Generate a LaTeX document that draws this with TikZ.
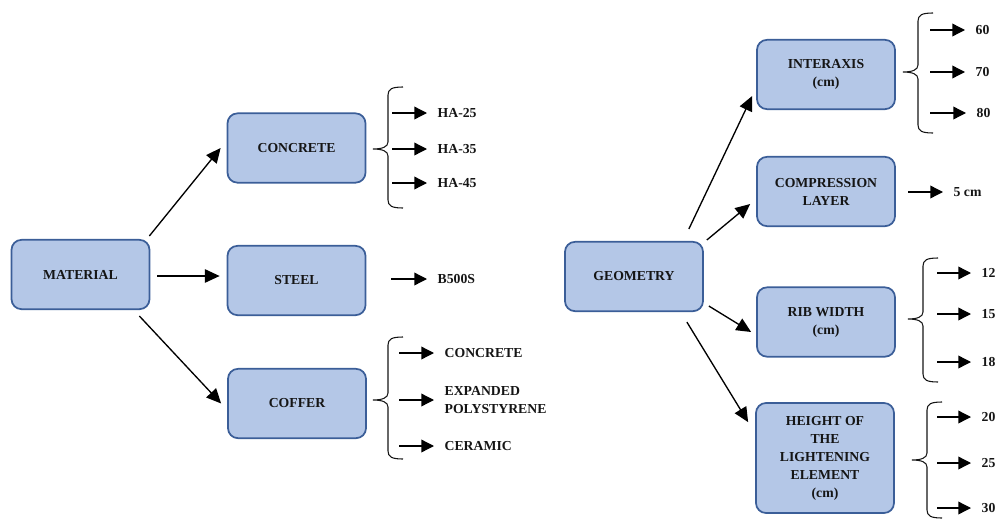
\documentclass[tikz,border=0pt]{standalone}
\usepackage{fontspec}
\setmainfont{Liberation Serif}
\usetikzlibrary{arrows.meta,calc}
\definecolor{boxfill}{HTML}{B4C7E7}
\definecolor{boxline}{HTML}{3B5E98}
\definecolor{inkc}{HTML}{151515}
\newcommand{\mybrace}[4]{%
  \draw[bracestyle] (#1+15,#2) .. controls (#1+4,#2) and (#1,#2+2) .. (#1,#2+8)
    -- (#1,#3-7) .. controls (#1,#3-2) and (#1-6,#3) .. (#1-15,#3)
    .. controls (#1-6,#3) and (#1,#3+2) .. (#1,#3+7)
    -- (#1,#4-8) .. controls (#1,#4-2) and (#1+4,#4) .. (#1+15,#4);}
\begin{document}
\begin{tikzpicture}[x=0.75pt,y=-0.75pt,
  mainbox/.style={draw=boxline,fill=boxfill,line width=1.3pt,rounded corners=7.5pt,
    minimum width=103.5pt,minimum height=52pt,align=center,inner sep=2pt,
    text=inkc,font=\fontsize{10.3}{13.5}\selectfont\bfseries},
  sub/.style={anchor=west,inner sep=0pt,outer xsep=8pt,align=left,
    text=inkc,font=\fontsize{10.3}{13}\selectfont\bfseries},
  sarrow/.style={line width=1pt,draw=black,-{Triangle[length=9.5pt,width=9.5pt]}},
  barrow/.style={line width=1pt,draw=black,-{Triangle[length=11pt,width=10pt]}},
  bracestyle/.style={line width=0.8pt,draw=inkc}]
\useasboundingbox (0,0) rectangle (1003,521);

% main boxes
\node[mainbox] (mat) at (80.5,274.5) {MATERIAL};
\node[mainbox] (conc) at (296.5,148) {CONCRETE};
\node[mainbox] (steel) at (296.5,280.5) {STEEL};
\node[mainbox] (coff) at (297,403.5) {COFFER};
\node[mainbox] (geo) at (634,276.5) {GEOMETRY};
\node[mainbox] (inter) at (826,74.5) {INTERAXIS\\(cm)};
\node[mainbox] (comp) at (826,191.5) {COMPRESSION\\LAYER};
\node[mainbox] (rib) at (826,322) {RIB WIDTH\\(cm)};
\node[mainbox,minimum height=82.5pt] (hgt) at (825,458) {HEIGHT OF\\THE\\LIGHTENING\\ELEMENT\\(cm)};

% main arrows
\draw[barrow] ($(mat.north east)+(-1,-3)$) -- ($(conc.west)+(-6,0)$);
\draw[barrow] ($(mat.east)+(7,1.5)$) -- ($(steel.west |- mat.east)+(-7,1.5)$);
\draw[barrow] ($(mat.south east)+(-11,6)$) -- ($(coff.west)+(-6,0)$);
\draw[barrow] ($(geo.north east)+(-15,-12)$) -- ($(inter.south west)+(-4,-14)$);
\draw[barrow] ($(geo.north east)+(3,-1)$) -- ($(comp.south west)+(-6,-23)$);
\draw[barrow] ($(geo.south east)+(5,-6)$) -- ($(rib.west)+(-5,10)$);
\draw[barrow] ($(geo.south east)+(-17,10)$) -- ($(hgt.north west)+(-7,20)$);

% braces
\mybrace{388}{87}{149}{208}
\mybrace{388}{337}{400}{459}
\mybrace{918}{13}{72}{133}
\mybrace{923}{258}{319}{382}
\mybrace{927}{402}{460}{518}

% concrete values
\coordinate (a1) at (392,113); \node[sub] (t1) at (427,113) {HA-25}; \draw[sarrow] (a1) -- (t1);
\coordinate (a2) at (392,149); \node[sub] (t2) at (427,149) {HA-35}; \draw[sarrow] (a2) -- (t2);
\coordinate (a3) at (392,183); \node[sub] (t3) at (427,183) {HA-45}; \draw[sarrow] (a3) -- (t3);
% steel
\coordinate (a4) at (391,279); \node[sub] (t4) at (427,279) {B500S}; \draw[sarrow] (a4) -- (t4);
% coffer
\coordinate (a5) at (399,353); \node[sub] (t5) at (434,353) {CONCRETE}; \draw[sarrow] (a5) -- (t5);
\coordinate (a6) at (399,400); \node[sub] (t6) at (434,400) {EXPANDED\\POLYSTYRENE}; \draw[sarrow] (a6) -- (t6);
\coordinate (a7) at (399,446); \node[sub] (t7) at (434,446) {CERAMIC}; \draw[sarrow] (a7) -- (t7);
% interaxis
\coordinate (b1) at (930,30); \node[sub] (u1) at (965,30) {60}; \draw[sarrow] (b1) -- (u1);
\coordinate (b2) at (930,72); \node[sub] (u2) at (965,72) {70}; \draw[sarrow] (b2) -- (u2);
\coordinate (b3) at (930,113); \node[sub] (u3) at (966,113) {80}; \draw[sarrow] (b3) -- (u3);
% compression
\coordinate (b4) at (908,192); \node[sub] (u4) at (943,192) {5 cm}; \draw[sarrow] (b4) -- (u4);
% rib width
\coordinate (b5) at (937,273); \node[sub] (u5) at (971,273) {12}; \draw[sarrow] (b5) -- (u5);
\coordinate (b6) at (937,314); \node[sub] (u6) at (971,314) {15}; \draw[sarrow] (b6) -- (u6);
\coordinate (b7) at (937,362); \node[sub] (u7) at (971,362) {18}; \draw[sarrow] (b7) -- (u7);
% height
\coordinate (b8) at (937,417); \node[sub] (u8) at (971,417) {20}; \draw[sarrow] (b8) -- (u8);
\coordinate (b9) at (937,463); \node[sub] (u9) at (971,463) {25}; \draw[sarrow] (b9) -- (u9);
\coordinate (b10) at (937,508); \node[sub] (u10) at (971,508) {30}; \draw[sarrow] (b10) -- (u10);
\end{tikzpicture}
\end{document}
